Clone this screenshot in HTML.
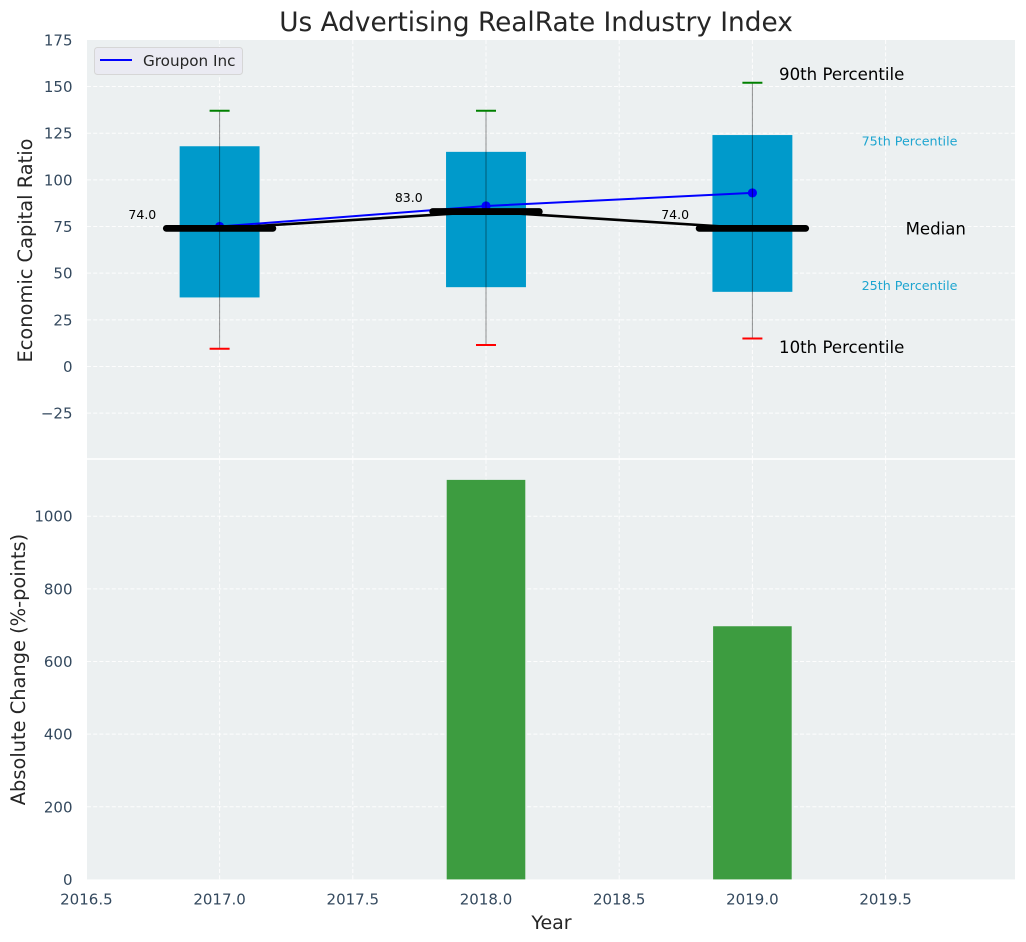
<!DOCTYPE html>
<html lang="en">
<head>
<meta charset="utf-8">
<title>Us Advertising RealRate Industry Index</title>
<style>
html,body{margin:0;padding:0;background:#fff;}
svg{display:block;font-family:"DejaVu Sans","Liberation Sans",sans-serif;}
</style>
</head>
<body>
<svg id="chart" xmlns="http://www.w3.org/2000/svg" width="1026" height="942" viewBox="0 0 1026 942"></svg>
<script>
const years = [2017, 2018, 2019];
const p10 = [9.5, 11.5, 15];
const p25 = [37, 42.5, 40];
const median = [74, 83, 74];
const p75 = [118, 115, 124];
const p90 = [137, 137, 152];
const companyValues = [75, 86, 93];
const absoluteChange = [0, 1100, 697];
const xTicks = [2016.5, 2017, 2017.5, 2018, 2018.5, 2019, 2019.5];
const xTickLabels = ['2016.5', '2017.0', '2017.5', '2018.0', '2018.5', '2019.0', '2019.5'];
const topTicks = [-25, 0, 25, 50, 75, 100, 125, 150, 175];
const topTickLabels = ['\u221225', '0', '25', '50', '75', '100', '125', '150', '175'];
const bottomTicks = [0, 200, 400, 600, 800, 1000];
const bottomTickLabels = ['0', '200', '400', '600', '800', '1000'];

const svg = document.getElementById('chart');
const NS = 'http://www.w3.org/2000/svg';
const LEFT = 87, RIGHT = 1015, TOP1 = 40, BOT1 = 458.2, TOP2 = 459.8, BOT2 = 879.4;
const x = v => 86.4 + (v - 2016.5) * 266.4;
const y1 = v => 366.5 - v * 1.8665;
const y2 = v => BOT2 - v * 0.3632;
const INK = '#262626', TICK = '#34495e', GRID = '#ffffff', BOX = '#009acb', BAR = '#3d9c40', CYAN = '#1ea5d0';

function make(tag, attrs, text) {
  const el = document.createElementNS(NS, tag);
  for (const k in attrs) el.setAttribute(k, attrs[k]);
  if (text !== undefined) el.textContent = text;
  svg.appendChild(el);
  return el;
}
function line(x1, yA, x2, yB, stroke, width, extra) {
  return make('line', Object.assign({x1: x1, y1: yA, x2: x2, y2: yB, stroke: stroke, 'stroke-width': width}, extra || {}));
}
let el;

el = make('rect', {x: LEFT, y: TOP1, width: RIGHT - LEFT, height: BOT1 - TOP1, fill: '#ecf0f1'});


el = make('rect', {x: LEFT, y: TOP2, width: RIGHT - LEFT, height: BOT2 - TOP2, fill: '#ecf0f1'});



const dash = {'stroke-dasharray': '4 2.2', opacity: 0.9};
xTicks.forEach((t, i) => {
  el = line(x(t), TOP1, x(t), BOT1, GRID, 1, dash);
  
  
  el = line(x(t), TOP2, x(t), BOT2, GRID, 1, dash);
  
  
  el = make('text', {x: x(t), y: 904.5, 'text-anchor': 'middle', 'font-size': 15, fill: TICK}, xTickLabels[i]);
  
  
});
topTicks.forEach((t, i) => {
  if (t !== 175) {
    el = line(LEFT, y1(t), RIGHT, y1(t), GRID, 1, dash);
    
    
  }
  el = make('text', {x: 72.5, y: y1(t) + 5.5, 'text-anchor': 'end', 'font-size': 15, fill: TICK}, topTickLabels[i]);
  
  
});
bottomTicks.forEach((t, i) => {
  if (t !== 0) {
    el = line(LEFT, y2(t), RIGHT, y2(t), GRID, 1, dash);
    
    
  }
  el = make('text', {x: 72.5, y: y2(t) + 5.5, 'text-anchor': 'end', 'font-size': 15, fill: TICK}, bottomTickLabels[i]);
  
  
});

years.forEach((yr, i) => {
  const w = 0.3;
  el = make('rect', {x: x(yr - w / 2), y: y1(p75[i]), width: w * 266.4, height: y1(p25[i]) - y1(p75[i]), fill: BOX});
  
  
});

el = make('polyline', {points: years.map((yr, i) => x(yr) + ',' + y1(median[i])).join(' '), fill: 'none', stroke: '#000', 'stroke-width': 2.6});


el = make('polyline', {points: years.map((yr, i) => x(yr) + ',' + y1(companyValues[i])).join(' '), fill: 'none', stroke: '#0000ff', 'stroke-width': 2});


years.forEach((yr, i) => {
  el = make('circle', {cx: x(yr), cy: y1(companyValues[i]), r: 4.6, fill: '#0000ff'});
  
  
});

years.forEach((yr, i) => {
  el = line(x(yr), y1(p90[i]), x(yr), y1(p10[i]), '#000', 1, {opacity: 0.42});
  
  
  el = line(x(yr) - 10, y1(p90[i]), x(yr) + 10, y1(p90[i]), '#008000', 2);
  
  
  el = line(x(yr) - 10, y1(p10[i]), x(yr) + 10, y1(p10[i]), '#ff0000', 2);
  
  
  el = line(x(yr - 0.2), y1(median[i]), x(yr + 0.2), y1(median[i]), '#000', 6.8, {'stroke-linecap': 'round'});
  
  
  el = make('text', {x: x(yr - 0.29), y: y1(median[i]) - 9.5, 'text-anchor': 'middle', 'font-size': 12.5, fill: '#000'}, median[i].toFixed(1));
  
  
});

const last = years.length - 1;
const lastYear = years[last];
el = make('text', {x: x(lastYear + 0.1), y: y1(p90[last] + 2) + 1, 'font-size': 16.6, fill: '#000'}, '90th Percentile');


el = make('text', {x: x(lastYear + 0.1), y: y1(p10[last] - 4) + 7, 'font-size': 16.6, fill: '#000'}, '10th Percentile');


el = make('text', {x: x(lastYear + 0.41), y: y1(p75[last] - 4) + 3, 'font-size': 12.7, fill: CYAN}, '75th Percentile');


el = make('text', {x: x(lastYear + 0.41), y: y1(p25[last] + 2) + 2, 'font-size': 12.7, fill: CYAN}, '25th Percentile');


el = make('text', {x: x(lastYear + 0.575), y: y1(median[last]) + 6, 'font-size': 16.6, fill: '#000'}, 'Median');



years.forEach((yr, i) => {
  if (absoluteChange[i] <= 0) return;
  const w = 0.295;
  el = make('rect', {x: x(yr - w / 2), y: y2(absoluteChange[i]), width: w * 266.4, height: BOT2 - y2(absoluteChange[i]), fill: BAR});
  
  
});

el = make('rect', {x: 94.5, y: 47.5, width: 148, height: 27, rx: 3, fill: '#eaeaf2', stroke: '#d6d6d6', 'stroke-width': 1});


el = line(100, 60, 132, 60, '#0000ff', 2);


el = make('text', {x: 143, y: 66, 'font-size': 15.2, fill: INK}, 'Groupon Inc');



el = make('text', {x: 536, y: 31, 'text-anchor': 'middle', 'font-size': 26.35, fill: INK}, 'Us Advertising RealRate Industry Index');


el = make('text', {x: 551.5, y: 929, 'text-anchor': 'middle', 'font-size': 19, fill: INK}, 'Year');


el = make('text', {transform: 'translate(32,250.5) rotate(-90)', 'text-anchor': 'middle', 'font-size': 19.4, fill: INK}, 'Economic Capital Ratio');


el = make('text', {transform: 'translate(25,669.5) rotate(-90)', 'text-anchor': 'middle', 'font-size': 19.4, fill: INK}, 'Absolute Change (%-points)');


</script>
</body>
</html>
